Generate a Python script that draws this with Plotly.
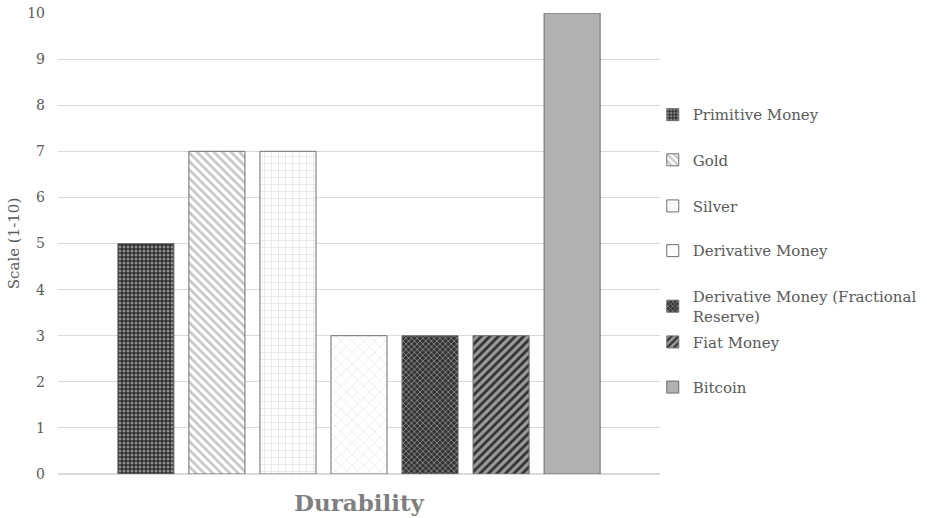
import plotly.graph_objects as go

# Durability score per money type (scale 1-10)
category = ["Durability"]
series_names = [
    "Primitive Money",
    "Gold",
    "Silver",
    "Derivative Money",
    "Derivative Money (Fractional<br>Reserve)",
    "Fiat Money",
    "Bitcoin",
]
durability = [5, 7, 7, 3, 3, 3, 10]

# fill styles: (pattern shape, background, foreground, size, solidity)
styles = [
    (".", "#2e2e2e", "#8c8c8c", 4, 0.45),
    ("\\", "#ffffff", "#c6c6c6", 6, 0.45),
    ("+", "#ffffff", "#e2e2e2", 7, 0.2),
    ("x", "#ffffff", "#ececec", 8, 0.2),
    ("x", "#333333", "#8a8a8a", 4, 0.4),
    ("/", "#9a9a9a", "#2f2f2f", 6, 0.45),
    ("", "#b1b1b4", "#b1b1b4", 6, 0.3),
]

# vertical centre of each legend entry, in plot-area fractions
legend_y = [0.779, 0.681, 0.581, 0.484, 0.364, 0.286, 0.188]

FONT = "DejaVu Serif"
TEXT = "#595959"

fig = go.Figure()
for i, (name, val, st) in enumerate(zip(series_names, durability, styles)):
    shape, bg, fg, size, sol = st
    lg = "legend" if i == 0 else f"legend{i + 1}"
    fig.add_trace(go.Bar(
        x=category,
        y=[val],
        name=name,
        legend=lg,
        marker=dict(
            color=bg,
            line=dict(color="#6e6e6e", width=1),
            pattern=dict(shape=shape, bgcolor=bg, fgcolor=fg, size=size,
                         solidity=sol, fillmode="replace"),
        ),
    ))

layout_legends = {}
for i, y in enumerate(legend_y):
    key = "legend" if i == 0 else f"legend{i + 1}"
    layout_legends[key] = dict(
        x=0.988, y=y, xanchor="left", yanchor="middle",
        bgcolor="rgba(0,0,0,0)",
        font=dict(family=FONT, size=15, color=TEXT),
        itemwidth=30,
        borderwidth=0,
    )

fig.update_layout(
    width=927,
    height=518,
    paper_bgcolor="white",
    plot_bgcolor="white",
    margin=dict(l=58, r=267, t=13, b=44, autoexpand=False),
    barmode="group",
    bargap=0.174,
    bargroupgap=0.211,
    font=dict(family=FONT, color=TEXT),
    showlegend=True,
    **layout_legends,
)

fig.update_xaxes(
    showticklabels=False,
    showgrid=False,
    showline=False,
    automargin=False,
    title=dict(text="<b>Durability</b>", font=dict(family=FONT, size=23, color="#7f7f7f"),
               standoff=20),
)
fig.update_yaxes(
    range=[0, 10],
    dtick=1,
    showgrid=True,
    gridcolor="#d9d9d9",
    gridwidth=1,
    zeroline=True,
    zerolinecolor="#d9d9d9",
    showline=False,
    automargin=False,
    tickfont=dict(family=FONT, size=14, color=TEXT),
    ticklabelstandoff=12,
    title=dict(text="Scale (1-10)", font=dict(family=FONT, size=15, color=TEXT), standoff=3),
)

fig.write_html("out.html")
